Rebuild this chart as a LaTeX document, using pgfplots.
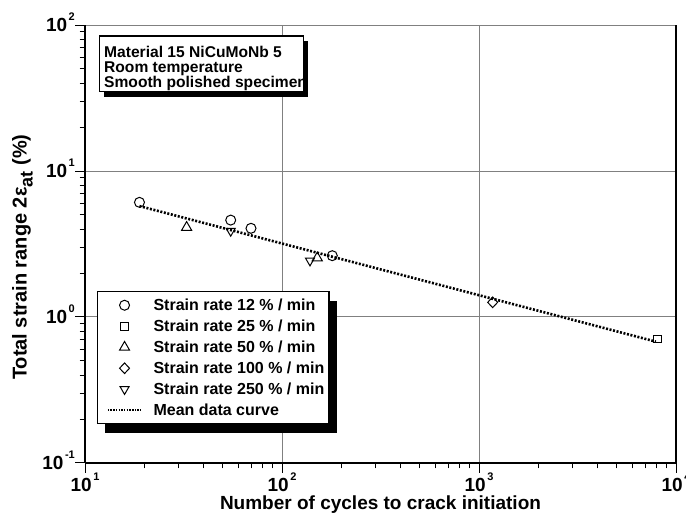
\documentclass[border=0pt]{standalone}
\usepackage{fontspec}
\setmainfont{Liberation Sans}
\usepackage{pgfplots}
\pgfplotsset{compat=1.18}
\usetikzlibrary{shadows}

\newcommand{\dec}[1]{10\hspace{1.5pt}\raisebox{0.6em}{\fontsize{11}{11}\selectfont #1}}

\begin{document}
\begin{tikzpicture}[x=1pt,y=1pt]
\useasboundingbox (0,0) rectangle (686,516);
\begin{axis}[
  at={(85pt,53pt)}, anchor=south west,
  scale only axis, width=591pt, height=438pt,
  xmode=log, ymode=log,
  xmin=10, xmax=10000, ymin=0.1, ymax=100,
  xtick={10,100,1000,10000}, ytick={0.1,1,10,100},
  xticklabels={\dec{1},\dec{2},\dec{3},\dec{4}},
  yticklabels={\dec{-1},\dec{0},\dec{1},\dec{2}},
  tick label style={font=\fontsize{19}{19}\selectfont\bfseries},
  xticklabel style={anchor=base, yshift=-18.7pt},
  yticklabel style={anchor=base east, xshift=3.3pt, yshift=-6.5pt},
  xtick pos=left, ytick pos=left, tick align=outside,
  major tick length=10pt, minor tick length=5.5pt,
  tick style={black, line width=1pt},
  grid=major, major grid style={black!50, line width=1pt},
  axis line style={draw=none},
  clip=false,
  xlabel={Number of cycles to crack initiation},
  ylabel={Total strain range 2ε\raisebox{-0.3em}{\fontsize{18}{18}\selectfont at}\hspace{6pt}(\%)},
  label style={font=\fontsize{19}{19}\selectfont\bfseries},
  xlabel style={at={(axis description cs:0.5,-0.0947)}, anchor=center},
  ylabel style={at={(axis description cs:-0.106,0.47)}, anchor=center,
    font=\fontsize{20}{20}\selectfont\bfseries},
  legend cell align=left,
  legend style={at={(rel axis cs:0.0198,0.3927)}, anchor=north west,
    draw=black, line width=1.5pt, fill=white,
    drop shadow={shadow xshift=8pt, shadow yshift=-9pt, fill=black, opacity=1},
    font=\fontsize{16}{16}\selectfont\bfseries,
    inner xsep=3pt, inner ysep=4pt, row sep=2pt, column sep=0pt,
    nodes={text height=13pt, text depth=3pt, inner sep=1.5pt}},
]
\addplot[only marks, mark=o, mark size=5pt, line width=1pt,
  legend image code/.code={\path (0pt,0pt) (49pt,0pt); \draw plot coordinates {(22.8pt,0pt)};}]
  coordinates {(18.9,6.1) (54.9,4.61) (69.6,4.05) (180,2.63)};
\addlegendentry{Strain rate 12 \% / min}
\addplot[only marks, mark=square, mark size=3.8pt, line width=1pt,
  legend image code/.code={\path (0pt,0pt) (49pt,0pt); \draw plot coordinates {(22.8pt,0pt)};}]
  coordinates {(8035,0.707)};
\addlegendentry{Strain rate 25 \% / min}
\addplot[only marks, mark=triangle, mark size=5.8pt, line width=1pt,
  legend image code/.code={\path (0pt,0pt) (49pt,0pt); \draw plot coordinates {(22.8pt,0pt)};}]
  coordinates {(32.8,4.11) (151,2.54)};
\addlegendentry{Strain rate 50 \% / min}
\addplot[only marks, mark=diamond, mark size=5.3pt, line width=1pt, mark options={xscale=1.25},
  legend image code/.code={\path (0pt,0pt) (49pt,0pt); \draw plot coordinates {(22.8pt,0pt)};}]
  coordinates {(1173,1.26)};
\addlegendentry{Strain rate 100 \% / min}
\addplot[only marks, mark=triangle, mark size=5.2pt, line width=1pt, mark options={rotate=180},
  legend image code/.code={\path (0pt,0pt) (49pt,0pt); \draw plot coordinates {(22.8pt,0pt)};}]
  coordinates {(54.9,3.88) (138.7,2.43)};
\addlegendentry{Strain rate 250 \% / min}
\addplot[black, line width=2.6pt, dash pattern=on 2pt off 1.6pt, no marks,
  legend image code/.code={\path (0pt,0pt) (49pt,0pt);
    \pgfsetlinewidth{1.8pt}\pgfsetdash{{1.5pt}{1.2pt}}{0pt}%
    \pgfpathmoveto{\pgfqpoint{6pt}{0pt}}\pgfpathlineto{\pgfqpoint{39pt}{0pt}}%
    \pgfusepath{stroke}}]
  coordinates {(18.9,5.75) (7907,0.678)};
\addlegendentry{Mean data curve}
\draw[black!50, line width=1pt] (rel axis cs:0,1) -- (rel axis cs:1,1);
\draw[black, line width=1.5pt] (rel axis cs:1,0) -- (rel axis cs:1,1);
\draw[black, line width=1.5pt] (rel axis cs:0,0) -- (rel axis cs:0,1);
\draw[black, line width=2pt] (rel axis cs:0,0) -- (rel axis cs:1,0);
\end{axis}
% text box with shadow
\fill[black] (104.3,419.3) rectangle (308.3,475);
\draw[fill=white, line width=1.5pt] (99.3,424.3) rectangle (303.3,480);
\begin{scope}
\clip (99.3,424.3) rectangle (302.5,480);
\node[anchor=north west, align=left, inner sep=0pt,
  font=\fontsize{15.6}{15}\selectfont\bfseries] at (104,469.5)
  {Material 15 NiCuMoNb 5\\Room temperature\\Smooth polished specimen};
\end{scope}
\end{tikzpicture}
\end{document}
